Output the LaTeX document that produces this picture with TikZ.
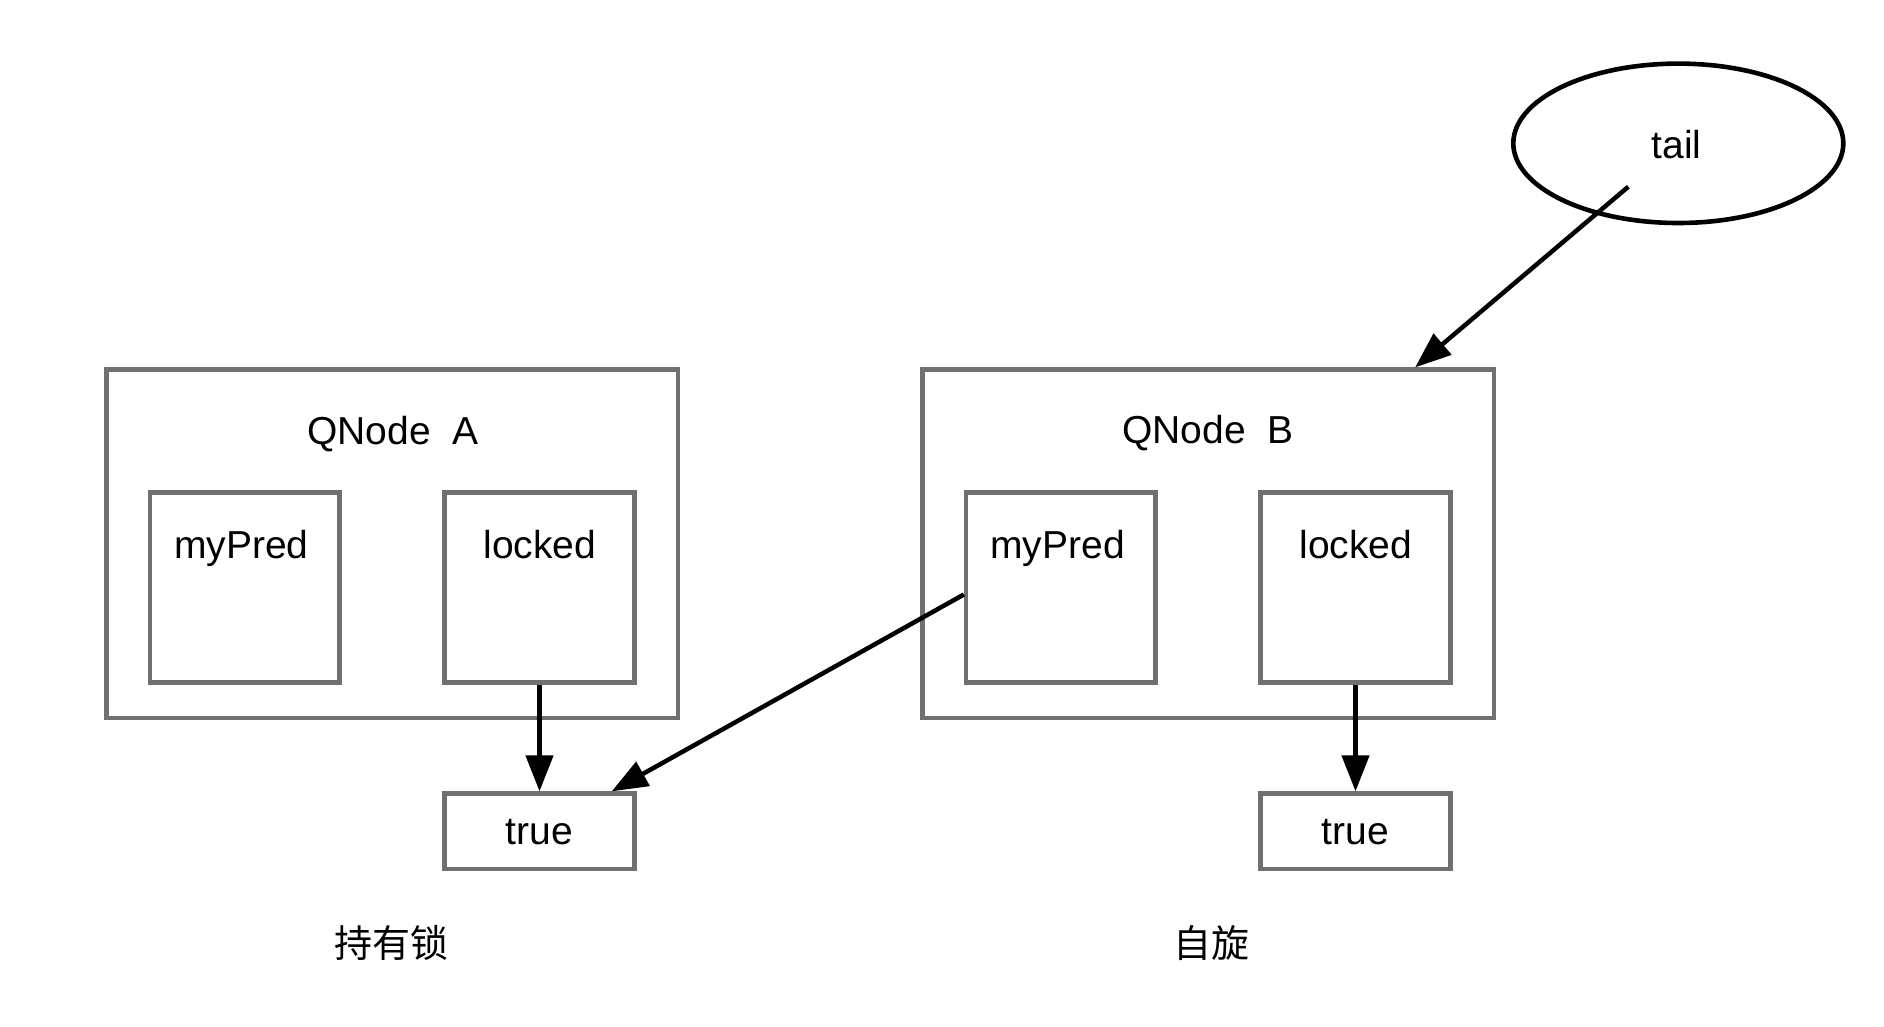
\documentclass[tikz,border=0pt]{standalone}
\usepackage{fontspec}
\setmainfont{Liberation Sans}
\newfontfamily\cjk{Noto Sans CJK SC}
\usetikzlibrary{arrows.meta,shapes.geometric}
\definecolor{boxgray}{HTML}{707070}
\begin{document}
\begin{tikzpicture}[x=1pt,y=-1pt,
  box/.style={draw=boxgray, line width=4.3pt, rectangle, inner sep=0pt},
  lbl/.style={font=\fontsize{39}{47}\selectfont, anchor=base, inner sep=0pt, text=black},
  cjklbl/.style={font=\cjk\fontsize{38}{46}\selectfont, anchor=base, inner sep=0pt, text=black},
  arr/.style={draw=black, line width=4.5pt, -{Triangle[length=36pt,width=27pt]}},
]
\fill[white] (0,0) rectangle (1884,1026);
\useasboundingbox (0,0) rectangle (1884,1026);

% QNode A
\node[box, minimum width=571.5pt, minimum height=348.5pt] (boxA) at (392.25,543.75) {};
\node[box, minimum width=189.5pt, minimum height=190pt] (predA) at (244.75,587.5) {};
\node[box, minimum width=190pt, minimum height=190pt] (lockA) at (539.5,587.5) {};
\node[box, minimum width=190pt, minimum height=75.5pt] (trueA) at (539.5,831.25) {};

% QNode B
\node[box, minimum width=571.5pt, minimum height=348.5pt] (boxB) at (1208.25,543.75) {};
\node[box, minimum width=189.5pt, minimum height=190pt] (predB) at (1060.75,587.5) {};
\node[box, minimum width=190pt, minimum height=190pt] (lockB) at (1355.5,587.5) {};
\node[box, minimum width=190pt, minimum height=75.5pt] (trueB) at (1355.5,831.25) {};

% tail
\node[ellipse, draw=black, line width=4.6pt, inner sep=0pt, minimum width=330pt, minimum height=159.4pt] (tail) at (1678.3,143.3) {};

% texts
\node[lbl] (tQA) at (392.8,444) {QNode\ \ A};
\node[lbl] (tQB) at (1208,443.5) {QNode\ \ B};
\node[lbl] (tPA) at (241.5,558) {myPred};
\node[lbl] (tPB) at (1057.5,558) {myPred};
\node[lbl] (tLA) at (540,558) {locked};
\node[lbl] (tLB) at (1356,558) {locked};
\node[lbl] (tTA) at (539.3,844.5) {true};
\node[lbl] (tTB) at (1355.3,844.5) {true};
\node[lbl] (tTail) at (1676.7,158.3) {tail};
\node[cjklbl] (cA) at (391.7,957) {持有锁};
\node[cjklbl] (cB) at (1211,957) {自旋};

% connectors
\draw[arr] (lockA.south) -- (trueA.north);
\draw[arr] (lockB.south) -- (trueB.north);
\draw[arr] ([yshift=-7pt]predB.west) -- ([xshift=-25pt]trueA.north east);
\draw[arr] ([shift={(-50pt,-43.4pt)}]tail.center) -- ([xshift=-81pt]boxB.north east);
\end{tikzpicture}
\end{document}
